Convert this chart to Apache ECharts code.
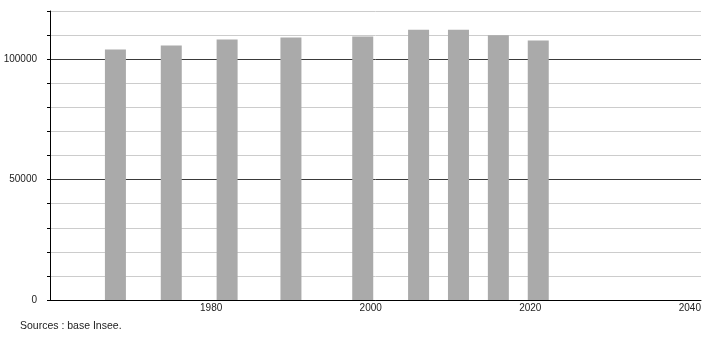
<!DOCTYPE html>
<html>
<head>
<meta charset="utf-8">
<script src="https://cdn.jsdelivr.net/npm/echarts@6/dist/echarts.min.js"></script>
<style>html,body{margin:0;padding:0;background:#fff;}#c{width:710px;height:340px;}</style>
</head>
<body>
<div id="c"></div>
<script>
var years = [1968, 1975, 1982, 1990, 1999, 2006, 2011, 2016, 2021];
var population = [104000, 105650, 108150, 108980, 109390, 112170, 112170, 109970, 107730];
var xTickLabels = [1980, 2000, 2020, 2040];
var sourceText = 'Sources : base Insee.';

var chart = echarts.init(document.getElementById('c'), null, {renderer: 'canvas'});
var pairs = years.map(function (y, i) { return [y, population[i]]; });
chart.setOption({
  animation: false,
  backgroundColor: '#fff',
  textStyle: {fontFamily: 'Liberation Sans, Arial, sans-serif'},
  grid: {left: 50, right: 9, top: 11, bottom: 40, containLabel: false},
  xAxis: {
    type: 'value',
    min: 1959.8,
    max: 2041.4,
    axisLine: {show: true, onZero: false, lineStyle: {color: '#000', width: 1}},
    axisTick: {show: false},
    splitLine: {show: false},
    axisLabel: {
      customValues: xTickLabels,
      margin: 3,
      fontSize: 10,
      color: '#222',
      formatter: function (v) { return String(Math.round(v)); }
    }
  },
  yAxis: {
    type: 'value',
    min: 0,
    max: 120000,
    interval: 10000,
    axisLine: {show: true, lineStyle: {color: '#000', width: 1}},
    axisTick: {show: true, length: 3, lineStyle: {color: '#000'}},
    axisLabel: {
      margin: 13,
      fontSize: 10,
      color: '#222',
      formatter: function (v) { return v % 50000 === 0 ? String(v) : ''; }
    },
    splitLine: {
      show: true,
      lineStyle: {color: ['#3a3a3a', '#cccccc', '#cccccc', '#cccccc', '#cccccc'], width: 1}
    }
  },
  series: [{
    type: 'bar',
    data: pairs,
    barWidth: 21,
    itemStyle: {color: '#aaaaaa'}
  }],
  graphic: [{
    type: 'text',
    left: 20,
    top: 321,
    style: {text: sourceText, fontSize: 10.5, fill: '#222', fontFamily: 'Liberation Sans, Arial, sans-serif'}
  }]
});
</script>
</body>
</html>
